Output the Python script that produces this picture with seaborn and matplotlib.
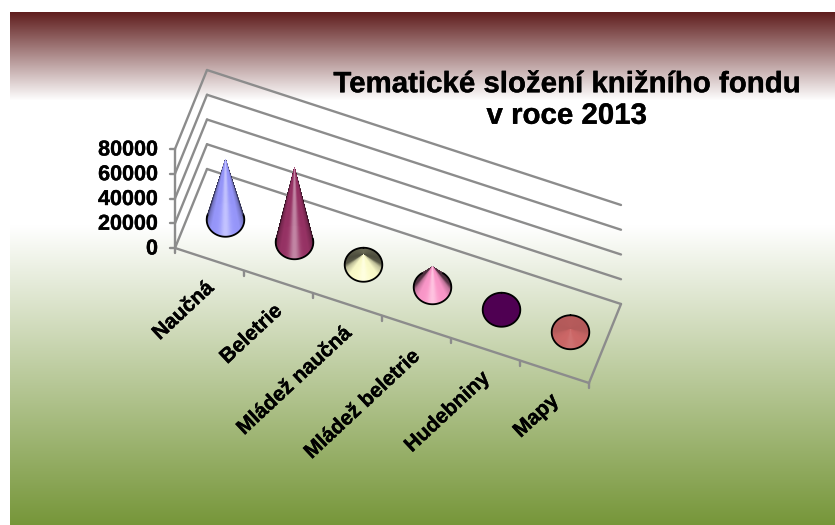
from __future__ import annotations

import matplotlib

matplotlib.use("Agg")

import matplotlib.patheffects as pe
import matplotlib.pyplot as plt
import numpy as np
import seaborn as sns
from matplotlib.collections import PolyCollection
from matplotlib.transforms import Affine2D

categories = ["Naučná", "Beletrie", "Mládež naučná", "Mládež beletrie", "Hudebniny", "Mapy"]
values = [48500, 60000, 8000, 16500, 800, 2500]
value_ticks = [0, 20000, 40000, 60000, 80000]
cone_colors = ["#9999ff", "#993366", "#ffffcc", "#ff99cc", "#4f0052", "#cc6666"]
title_text = "Tematické složení knižního fondu\nv roce 2013"

WIDTH, HEIGHT = 835, 525
GRID = "#8c8c8c"
FONT = "Liberation Sans"

sns.set_theme(style="white", rc={"font.family": FONT, "font.weight": "bold"})

fig = plt.figure(figsize=(WIDTH / 100, HEIGHT / 100), dpi=100, facecolor="white")
heavy = [pe.withStroke(linewidth=0.25, foreground="black")]


def draw_background():
    bg = fig.add_axes([10 / WIDTH, 0, (WIDTH - 10) / WIDTH, (HEIGHT - 12) / HEIGHT])
    bg.axis("off")
    rows = np.arange(12, HEIGHT)
    stops = [12, 100, 225, 525]
    reds = np.interp(rows, stops, [96, 255, 255, 118])
    greens = np.interp(rows, stops, [30, 255, 255, 150])
    blues = np.interp(rows, stops, [30, 255, 255, 57])
    img = np.stack([reds, greens, blues], axis=1)[:, None, :] / 255
    bg.imshow(img, aspect="auto", interpolation="bilinear")


draw_background()

# value/category axes sit on the front plane, the shear below tips them into the 3D look
ax = fig.add_axes([175 / WIDTH, (HEIGHT - 248) / HEIGHT, 414 / WIDTH, 99 / HEIGHT])
ax.axis("off")
ax.set_xlim(0, 6)
ax.set_ylim(0, 80000)

shear = (
    Affine2D().translate(-175, -(HEIGHT - 248))
    + Affine2D.from_values(1, -135 / 414, 0, 1, 0, 0)
    + Affine2D().translate(175, HEIGHT - 248)
)
front = ax.transData + shear
back = front + Affine2D().translate(32, 79)
middle = front + Affine2D().translate(16, 39.5)
line_kw = dict(color=GRID, lw=1.7, clip_on=False, solid_capstyle="round")

# gridlines on the back wall and the slanted side wall
for v in value_ticks:
    sns.lineplot(x=[0, 6], y=[v, v], ax=ax, transform=back, errorbar=None, **line_kw)
    p0 = front.transform((0, v))
    p1 = back.transform((0, v))
    ax.plot([p0[0], p1[0]], [p0[1], p1[1]], transform=Affine2D(), **line_kw)
    ax.plot([p0[0] - 5, p0[0]], [p0[1], p0[1]], transform=Affine2D(), **line_kw)
    ax.text(p0[0] - 17, p0[1] - 1, str(v), transform=Affine2D(), ha="right", va="center",
            fontsize=15.5, fontweight="bold", color="black", path_effects=heavy)

# floor edges and the y axis
sns.lineplot(x=[0, 6], y=[0, 0], ax=ax, transform=front, errorbar=None, **line_kw)
sns.lineplot(x=[0, 0], y=[0, 80000], ax=ax, transform=front, estimator=None, sort=False, **line_kw)
pr0 = front.transform((6, 0))
pr1 = back.transform((6, 0))
ax.plot([pr0[0], pr1[0]], [pr0[1], pr1[1]], transform=Affine2D(), **line_kw)
for i in range(len(categories) + 1):
    p = front.transform((i, 0))
    ax.plot([p[0], p[0]], [p[1], p[1] - 5], transform=Affine2D(), **line_kw)


def shade(phi):
    return np.interp(np.abs(phi), [0, 50, 75, 90, 110, 180], [1.0, 0.97, 0.75, 0.35, 0.3, 0.42])


def draw_cone(i, value, color):
    rx, ry = 18.8, 17.0
    cx, cy = middle.transform((i + 0.5, 0))
    tip = middle.transform((i + 0.5, value))
    h = tip[1] - cy
    base = np.array(matplotlib.colors.to_rgb(color))
    mix = np.clip((h - 2) / 6, 0, 1)

    phis = np.radians(np.linspace(-180, 180, 241))
    mids = (phis[:-1] + phis[1:]) / 2
    order = np.argsort(-np.abs(mids))
    polys, faces = [], []
    for k in order:
        a, b = phis[k], phis[k + 1]
        polys.append([tip, (cx + rx * np.sin(a), cy - ry * np.cos(a)),
                      (cx + rx * np.sin(b), cy - ry * np.cos(b))])
        deg = np.degrees(mids[k])
        s = 1 + (shade(deg) - 1) * mix
        hl = 0.4 * mix * np.exp(-(deg / 16) ** 2)
        c = np.clip(base * s, 0, 1)
        faces.append(c + (1 - c) * hl)
    ax.add_collection(PolyCollection(polys, facecolors=faces, edgecolors=faces, linewidths=0.3,
                                     transform=Affine2D(), clip_on=False, zorder=3))

    # outline of the visible part of the base
    if h > ry:
        limit = np.pi - np.arccos(ry / h)
    else:
        limit = np.pi
    arc = np.linspace(-limit, limit, 120)
    ax.plot(cx + rx * np.sin(arc), cy - ry * np.cos(arc), color="black", lw=1.3,
            transform=Affine2D(), clip_on=False, zorder=4)


for i, (value, color) in enumerate(zip(values, cone_colors)):
    draw_cone(i, value, color)

# rotated category labels, right end near the front edge
for i, name in enumerate(categories):
    x, y = front.transform((i + 0.5, 0))
    ax.text(x - 5, y - 19, name, transform=Affine2D(), rotation=43, rotation_mode="anchor",
            ha="right", va="top", fontsize=15, fontweight="bold", color="black", path_effects=heavy)

ax.set_xlim(0, 6)
ax.set_ylim(0, 80000)

fig.text(566.5 / WIDTH, 1 - 100 / HEIGHT, title_text, ha="center", va="center", fontsize=21.2,
         fontweight="bold", color="black", linespacing=1.16, path_effects=heavy)

fig.savefig("out.png", dpi=100)
